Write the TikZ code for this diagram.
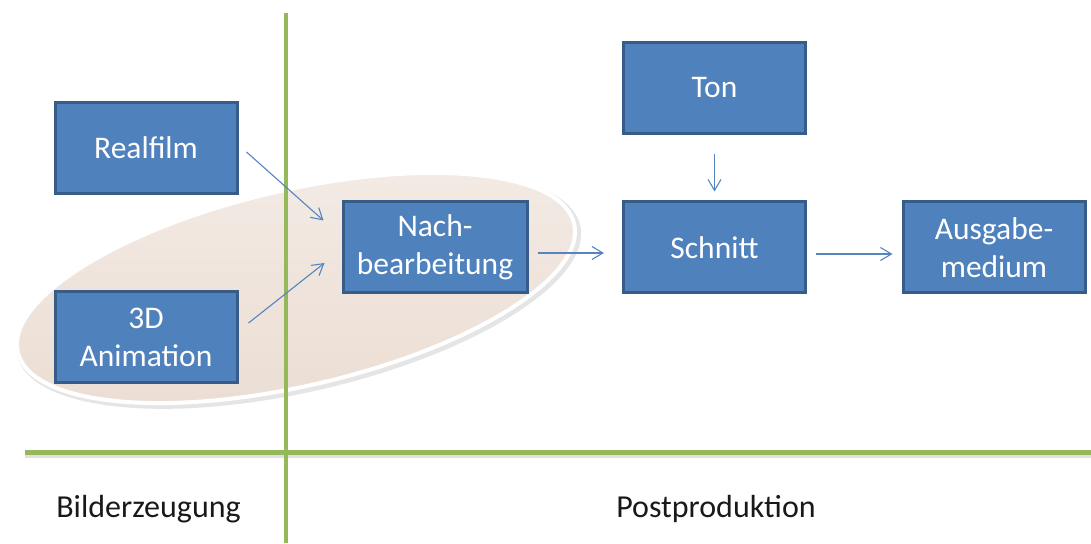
\documentclass[tikz,border=0pt]{standalone}
\usepackage{fontspec}
\setmainfont{Carlito}
\usetikzlibrary{arrows.meta}

\definecolor{boxfill}{HTML}{4F81BD}
\definecolor{boxline}{HTML}{385C88}
\definecolor{divider}{HTML}{94B85A}
\definecolor{flow}{HTML}{5585C0}
\definecolor{grouptop}{HTML}{F3EBE5}
\definecolor{groupbottom}{HTML}{EBDDD3}

\begin{document}
\begin{tikzpicture}[x=1pt,y=1pt,
  stepbox/.style={draw=boxline, line width=3pt, fill=boxfill, text=white,
    minimum width=182pt, minimum height=91pt, inner sep=0pt, align=center,
    font=\fontsize{31.5}{37.5}\selectfont},
  flowarrow/.style={draw=flow, line width=1.1pt,
    -{Straight Barb[length=11pt,width=13pt,line width=1.1pt]}},
  phase/.style={font=\fontsize{32}{38}\selectfont, text=black!90, anchor=base},
  rule/.style={draw=divider, line width=5pt},
]
\useasboundingbox (0,0) rectangle (1091,543);

% tilted group around the production steps
\coordinate (gc) at (296,255);
\fill[black, opacity=0.10, rotate around={13:(gc)}]
  ([shift={(2,-3)}]gc) ellipse [x radius=289pt, y radius=101.5pt];
\path[rotate around={13:(gc)}, top color=grouptop, bottom color=groupbottom,
  draw=white, line width=4pt]
  (gc) ellipse [x radius=285.5pt, y radius=98pt];

% phase dividers
\coordinate (vtop) at (286,530);
\coordinate (vbot) at (286,0);
\coordinate (hleft) at (25,90);
\coordinate (hright) at (1091,90);
\draw[black, opacity=0.12, line width=4pt] ([yshift=-3.5pt]hleft) -- ([yshift=-3.5pt]hright);
\draw[rule] (hleft) -- (hright);
\draw[rule, line width=4pt] (vtop) -- (vbot);

% process steps
\node[stepbox] (realfilm) at (146,395)   {Realfilm};
\node[stepbox] (anim)     at (146,205.5) {3D\\Animation};
\node[stepbox, minimum width=184pt] (nach) at (435,295.5) {Nach-\\bearbeitung};
\node[stepbox] (ton)      at (714.5,455) {Ton};
\node[stepbox] (schnitt)  at (714.5,295.5) {Schnitt};
\node[stepbox] (ausgabe)  at (994,295.5) {Ausgabe-\\medium};

% flow
\draw[flowarrow] ([shift={(8,-4)}]realfilm.east) -- ([shift={(-18,-20)}]nach.north west);
\draw[flowarrow] ([shift={(10,14.5)}]anim.east) -- ([shift={(-17,-15.5)}]nach.west);
\draw[flowarrow] ([shift={(9,-5.5)}]nach.east) -- ([shift={(-18,-5.5)}]schnitt.west);
\draw[flowarrow] ([shift={(9,-6.5)}]schnitt.east) -- ([shift={(-9,-6.5)}]ausgabe.west);
\draw[flowarrow] ([yshift=-19pt]ton.south) -- ([yshift=9pt]schnitt.north);

% phase labels
\node[phase] (bild) at (148.5,26) {Bilderzeugung};
\node[phase] (post) at (716,26) {Postproduktion};
\end{tikzpicture}
\end{document}
